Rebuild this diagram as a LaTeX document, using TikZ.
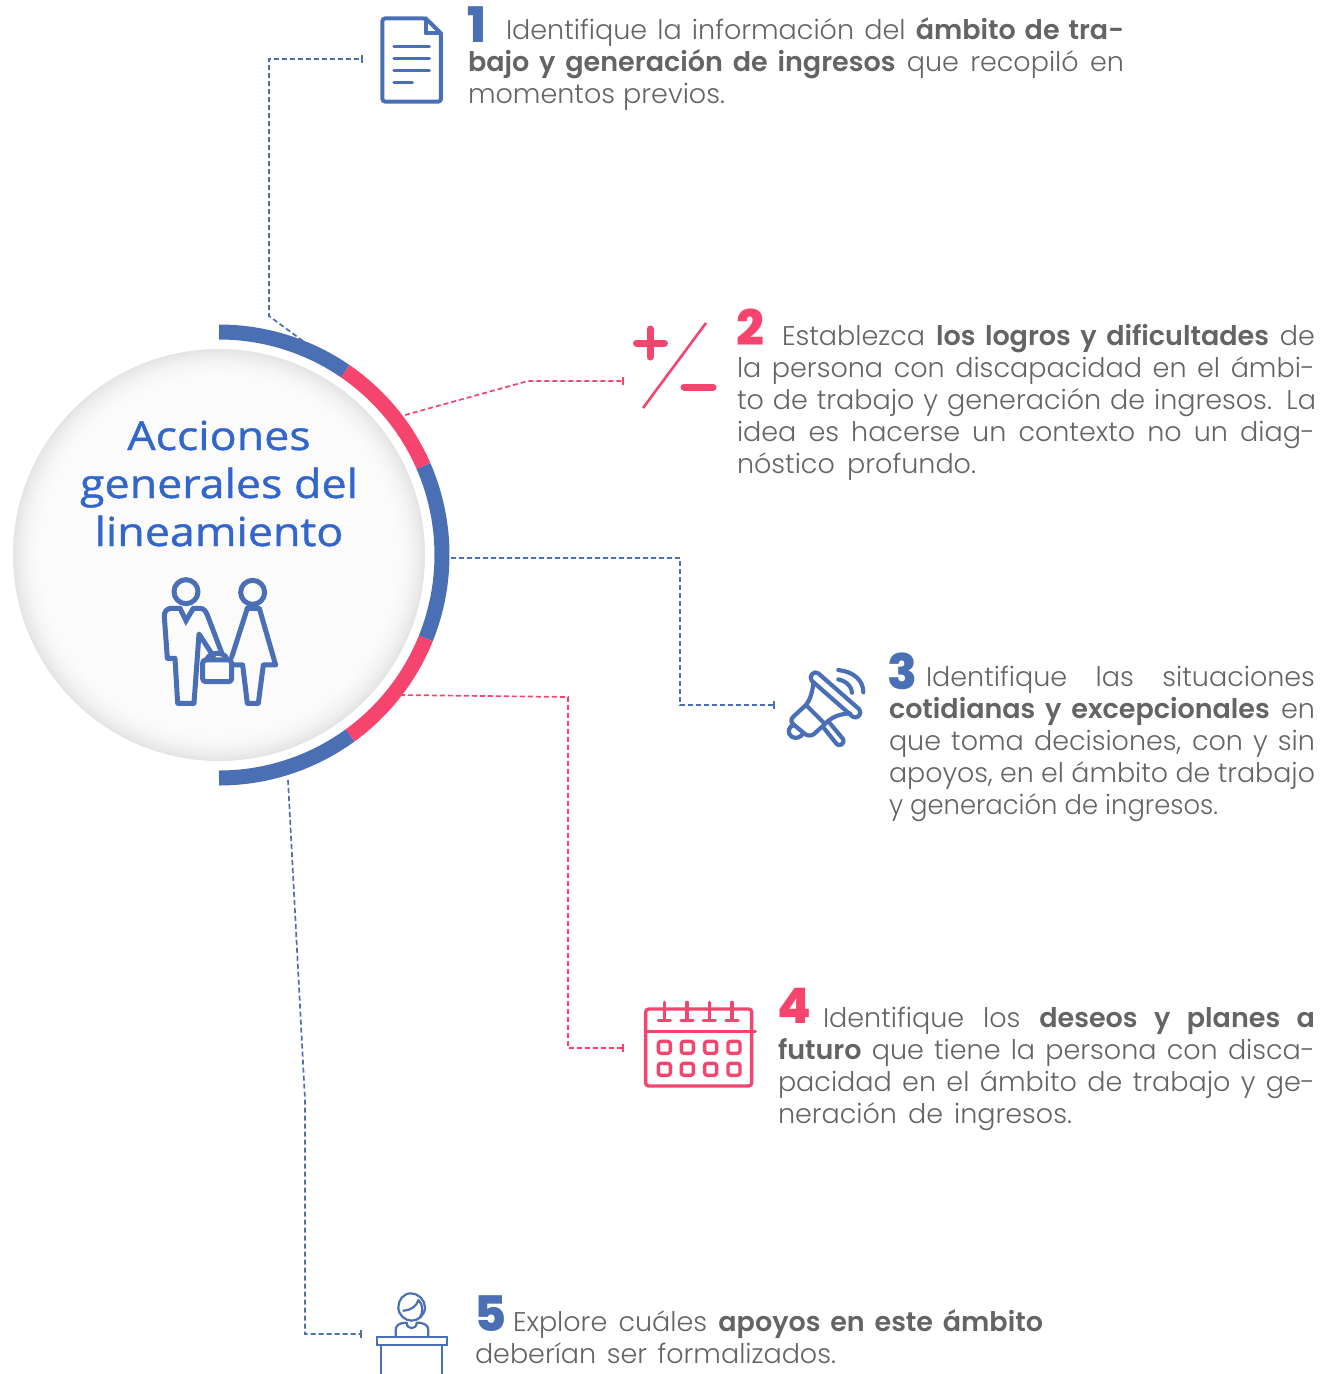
\documentclass[tikz,border=0pt]{standalone}
\usepackage{fontspec}
\usepackage{graphicx}
\usetikzlibrary{arrows.meta}
\setmainfont{Poppins}
\newfontfamily\lightf[BoldFont={Poppins SemiBold}]{Poppins Light}
\newfontfamily\numf{Poppins ExtraBold}
\newfontfamily\titlef[FakeStretch=1.12,FakeBold=1]{Open Sans}
\definecolor{blueA}{HTML}{4A6FB5}
\definecolor{pinkA}{HTML}{F5456F}
\definecolor{titleA}{HTML}{3366CC}
\definecolor{textA}{HTML}{636466}
\newsavebox\lbx
\newcommand{\jl}[2]{\sbox\lbx{#2}\ifdim\wd\lbx>#1\relax\resizebox{#1}{\height}{\usebox\lbx}\else\makebox[#1][s]{#2}\fi}
\newcommand{\tl}[5]{\node[bodyline] (#1) at (#2,#3) {\jl{#4pt}{#5}};}
\tikzset{
  bodyline/.style={anchor=base west,inner sep=0pt,outer sep=0pt,text=textA,font=\lightf\fontsize{27}{32}\selectfont},
  numb/.style={anchor=base west,inner sep=0pt,outer sep=0pt,text depth=0pt,font=\numf\fontsize{49}{49}\selectfont},
  titleline/.style={anchor=base,inner sep=0pt,text=titleA,font=\titlef\fontsize{40}{48}\selectfont},
  bluelink/.style={draw=blueA,line width=1.7pt,dash pattern=on 5pt off 3pt,-{Bar[width=8pt,line width=1.7pt,length=1pt]}},
  pinklink/.style={draw=pinkA,line width=1.7pt,dash pattern=on 5pt off 3pt,-{Bar[width=8pt,line width=1.7pt,length=1pt]}},
  ringseg/.style={line width=15pt,line cap=butt},
  icon/.style={line join=round,line cap=round,fill=none},
}
\begin{document}
\begin{tikzpicture}[x=1pt,y=-1pt]
\useasboundingbox (0,0) rectangle (1331,1374);
% hub with a soft inner rim
\coordinate (hubc) at (219,555);
\foreach \rr in {206,205,...,170}{
  \pgfmathsetmacro{\lev}{98.5-9*((\rr-170)/36)^2.6}
  \fill[white!\lev!black] (hubc) circle[radius=\rr];
}
\node[circle,minimum size=412pt,inner sep=0pt] (hub) at (hubc) {};
\node[titleline] (t1) at (219,450) {Acciones};
\node[titleline] (t2) at (219,498) {generales del};
\node[titleline] (t3) at (219,546) {lineamiento};
% connectors
\coordinate (c1a) at (303,341); \coordinate (c1b) at (269,316); \coordinate (c1c) at (269,59); \coordinate (c1d) at (363,59);
\coordinate (c2a) at (405,415); \coordinate (c2b) at (528,381); \coordinate (c2d) at (624,381);
\coordinate (c3a) at (451,558); \coordinate (c3b) at (680,558); \coordinate (c3c) at (680,705); \coordinate (c3d) at (775,705);
\coordinate (c4a) at (400,695); \coordinate (c4b) at (568,697); \coordinate (c4c) at (568,1048); \coordinate (c4d) at (624,1048);
\coordinate (c5a) at (288,780); \coordinate (c5b) at (305,1100); \coordinate (c5c) at (305,1334); \coordinate (c5d) at (362,1334);
\draw[bluelink] (c1a) -- (c1b) -- (c1c) -- (c1d);
\draw[pinklink] (c2a) -- (c2b) -- (c2d);
\draw[bluelink] (c3a) -- (c3b) -- (c3c) -- (c3d);
\draw[pinklink] (c4a) -- (c4b) -- (c4c) -- (c4d);
\draw[bluelink] (c5a) -- (c5b) -- (c5c) -- (c5d);
% ring
\begin{scope}[shift={(219,555)},y=1pt]
\draw[ringseg,blueA] (90:223pt) arc[start angle=90,end angle=55.5,radius=223pt];
\draw[ringseg,pinkA] (55.5:223pt) arc[start angle=55.5,end angle=23.5,radius=223pt];
\draw[ringseg,blueA] (23.5:223pt) arc[start angle=23.5,end angle=-22,radius=223pt];
\draw[ringseg,pinkA] (-22:223pt) arc[start angle=-22,end angle=-54,radius=223pt];
\draw[ringseg,blueA] (-54:223pt) arc[start angle=-54,end angle=-90,radius=223pt];
\end{scope}
% people icon
\begin{scope}[shift={(130,560)},x=0.3333pt,y=-0.3333pt,icon,draw=blueA,line width=5pt]
\draw (168,95) circle[radius=36];
\draw (368,97) circle[radius=36];
\draw[line join=miter] (150,145) -- (168,182) -- (190,145);
\draw (150,145) -- (125,145) .. controls (110,145) and (102,155) .. (103,170) -- (112,295) -- (135,295) -- (143,430) -- (192,430) -- (207,222) -- (250,288);
\draw (190,145) -- (210,145) .. controls (222,145) and (228,155) .. (232,165) -- (275,278);
\draw[rounded corners=3pt] (218,300) rectangle (305,365);
\draw (232,295) .. controls (240,278) and (280,272) .. (290,295);
\draw (352,145) -- (388,145) -- (437,315) -- (400,315) -- (385,430) -- (352,430) -- (338,315) -- (310,315);
\draw (352,145) -- (305,292);
\end{scope}
% doc icon
\begin{scope}[shift={(360,0)},x=0.3333pt,y=-0.3333pt,icon,draw=blueA,line width=4pt]
\draw[rounded corners=3pt] (197,55) -- (67,55) -- (67,305) -- (243,305) -- (243,100) -- cycle;
\draw (197,55) -- (197,100) -- (243,100);
\draw[line width=3.4pt] (102,140) -- (208,140) (102,176) -- (208,176) (102,212) -- (208,212) (102,248) -- (157,248);
\end{scope}
% plus minus
\coordinate (pm1) at (650,329); \coordinate (pm2) at (650,357); \coordinate (pm3) at (636.5,343); \coordinate (pm4) at (664.5,343);
\coordinate (pm5) at (706,323); \coordinate (pm6) at (643,408); \coordinate (pm7) at (684,387); \coordinate (pm8) at (713,387);
\draw[pinkA,line width=7pt,line cap=round] (pm1) -- (pm2) (pm3) -- (pm4) (pm7) -- (pm8);
\draw[pinkA,line width=2.6pt] (pm5) -- (pm6);
% megaphone
\begin{scope}[shift={(770,650)},x=0.3333pt,y=-0.3333pt,icon,draw=blueA,line width=4.2pt]
\draw (130,98) .. controls (128,125) and (120,150) .. (108,165) -- (70,200) .. controls (62,208) and (62,215) .. (70,223) -- (105,252) .. controls (112,258) and (125,258) .. (132,252) -- (165,222) .. controls (185,200) and (210,192) .. (240,190);
\draw (108,165) -- (165,222);
\draw (72,225) .. controls (55,228) and (50,250) .. (65,260) .. controls (78,268) and (92,262) .. (100,250);
\draw (160,232) -- (200,282) .. controls (208,292) and (225,280) .. (220,268) -- (180,220);
\draw (205,88) .. controls (232,95) and (245,110) .. (246,128);
\draw (205,60) .. controls (250,65) and (280,90) .. (280,127);
\draw (145,70) -- (268,178) .. controls (278,190) and (262,210) .. (248,200) -- (125,92) .. controls (115,78) and (132,60) .. (145,70) -- cycle;
\end{scope}
% calendar
\begin{scope}[shift={(630,990)},x=0.3333pt,y=-0.3333pt,icon,draw=pinkA,line width=3.4pt]
\draw[rounded corners=3pt] (47,57) rectangle (365,288);
\draw (47,124) -- (376,124);
\foreach \xx in {103,171,238,306}{
  \draw (\xx,37) -- (\xx,90);
  \draw (\xx-18,91) -- (\xx+18,91);
}
\foreach \xx in {103,172,242,312}{
  \draw[rounded corners=2.5pt] (\xx-18,154) rectangle (\xx+18,190);
  \draw[rounded corners=2.5pt] (\xx-18,220) rectangle (\xx+18,256);
}
\end{scope}
% desk person
\begin{scope}[shift={(350,1280)},x=0.3333pt,y=-0.3333pt,icon,draw=blueA,line width=2.2pt]
\draw[line join=miter] (80,170) rectangle (290,195);
\draw (93,195) -- (93,282) (277,195) -- (277,282);
\draw (183,40) .. controls (160,40) and (145,60) .. (145,82) .. controls (145,105) and (165,122) .. (185,122) .. controls (205,122) and (225,105) .. (225,82) .. controls (225,60) and (205,40) .. (183,40);
\draw (160,92) .. controls (185,90) and (200,78) .. (205,60) .. controls (220,72) and (220,100) .. (208,115);
\draw (137,168) -- (137,150) .. controls (137,135) and (150,128) .. (170,128) .. controls (170,150) and (200,150) .. (200,128) .. controls (222,128) and (235,135) .. (235,150) -- (235,168);
\end{scope}
% numbers
\node[numb,text=blueA] (n1) at (467,42) {1};
\node[numb,text=pinkA] (n2) at (736,345) {2};
\node[numb,text=blueA] (n3) at (887,689) {3};
\node[numb,text=pinkA] (n4) at (777,1023) {4};
\node[numb,text=blueA] (n5) at (474,1331) {5};
% text
\tl{a1}{506}{39}{618}{Identifique la información del \textbf{ámbito de tra-}}
\tl{a2}{468}{71}{656}{\textbf{bajo y generación de ingresos} que recopiló en}
\tl{a3}{468}{103}{257}{momentos previos.}
\tl{b1}{782}{345}{533}{Establezca \textbf{los logros y dificultades} de}
\tl{b2}{737}{377}{578}{la persona con discapacidad en el ámbi-}
\tl{b3}{737}{409}{579}{to de trabajo y generación de ingresos. La}
\tl{b4}{737}{441}{578}{idea es hacerse un contexto no un diag-}
\tl{b5}{737}{473}{239}{nóstico profundo.}
\tl{c1}{926}{686}{389}{Identifique las situaciones}
\tl{c2}{889}{718}{426}{\textbf{cotidianas y excepcionales} en}
\tl{c3}{889}{750}{426}{que toma decisiones, con y sin}
\tl{c4}{889}{782}{426}{apoyos, en el ámbito de trabajo}
\tl{c5}{889}{814}{329}{y generación de ingresos.}
\tl{d1}{823}{1027}{492}{Identifique los \textbf{deseos y planes a}}
\tl{d2}{778}{1059}{537}{\textbf{futuro} que tiene la persona con disca-}
\tl{d3}{778}{1091}{537}{pacidad en el ámbito de trabajo y ge-}
\tl{d4}{778}{1123}{294}{neración de ingresos.}
\tl{e1}{513}{1331}{530}{Explore cuáles \textbf{apoyos en este ámbito}}
\tl{e2}{475}{1363}{361}{deberían ser formalizados.}
\end{tikzpicture}
\end{document}
